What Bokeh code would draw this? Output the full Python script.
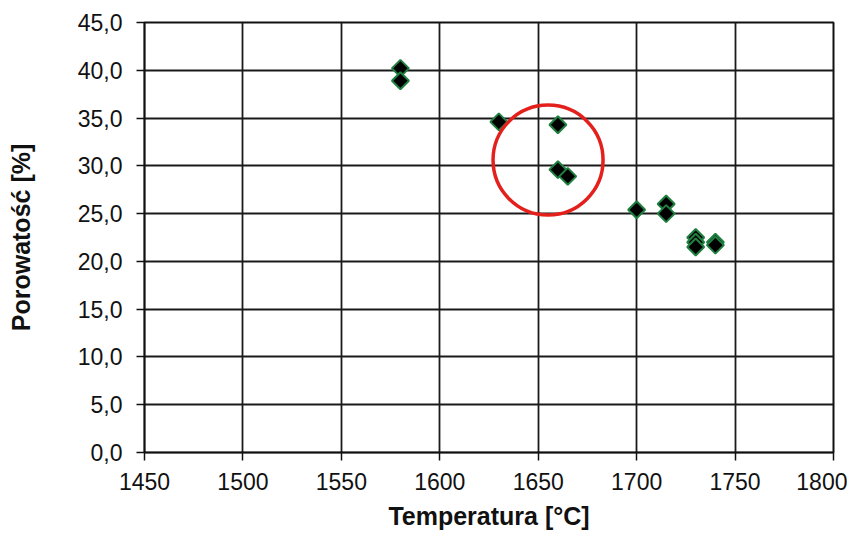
from bokeh.plotting import figure
from bokeh.models import FixedTicker, CustomJSTickFormatter, Range1d
from bokeh.embed import file_html
from bokeh.resources import INLINE
import numpy as np

# data
temperature = [1580, 1580, 1630, 1660, 1660, 1665, 1700, 1715, 1715, 1730, 1730, 1730, 1740, 1740]
porosity = [40.2, 38.9, 34.6, 34.3, 29.6, 28.9, 25.4, 26.0, 25.0, 22.5, 22.0, 21.5, 22.0, 21.7]

x_ticks = [1450, 1500, 1550, 1600, 1650, 1700, 1750, 1800]
y_ticks = [0, 5, 10, 15, 20, 25, 30, 35, 40, 45]

# highlight circle (centre in data units)
circle_x = [1655]
circle_y = [30.6]

FONT = "Liberation Sans"

p = figure(width=847, height=536, output_backend="svg", toolbar_location=None,
           x_range=Range1d(1450, 1800), y_range=Range1d(0, 45),
           min_border_left=144, min_border_right=14, min_border_top=22, min_border_bottom=84,
           x_axis_label="Temperatura [°C]", y_axis_label="Porowatość [%]")

p.background_fill_color = "white"
p.border_fill_color = "white"
p.outline_line_color = "#111111"
p.outline_line_width = 2

p.xaxis.ticker = FixedTicker(ticks=x_ticks)
p.yaxis.ticker = FixedTicker(ticks=y_ticks)
p.yaxis.formatter = CustomJSTickFormatter(code="return tick.toFixed(1).replace('.', ',');")

for ax in (p.xaxis[0], p.yaxis[0]):
    ax.axis_line_color = "#111111"
    ax.axis_line_width = 1.5
    ax.major_tick_line_color = "#111111"
    ax.major_tick_line_width = 1.5
    ax.major_tick_out = 8
    ax.major_tick_in = 0
    ax.minor_tick_line_color = None
    ax.major_label_text_font = FONT
    ax.major_label_text_font_size = "23px"
    ax.major_label_text_color = "#111111"
    ax.axis_label_text_font = FONT
    ax.axis_label_text_font_size = "25px"
    ax.axis_label_text_font_style = "bold"
    ax.axis_label_text_color = "#111111"

p.xaxis.major_label_standoff = 12
p.xaxis.axis_label_standoff = 9
p.yaxis.major_label_standoff = 14
p.yaxis.axis_label_standoff = 40

p.xgrid.ticker = FixedTicker(ticks=x_ticks)
p.ygrid.ticker = FixedTicker(ticks=y_ticks)
p.grid.grid_line_color = "#1a1a1a"
p.grid.grid_line_width = 1.8

p.scatter(temperature, porosity, marker="square", angle=np.pi / 4, size=12,
          fill_color="black", line_color="#1f8040", line_width=2)

p.scatter(circle_x, circle_y, marker="circle", size=110, fill_alpha=0,
          line_color="#e3201b", line_width=3.5)

open("out.html", "w").write(file_html(p, INLINE))
